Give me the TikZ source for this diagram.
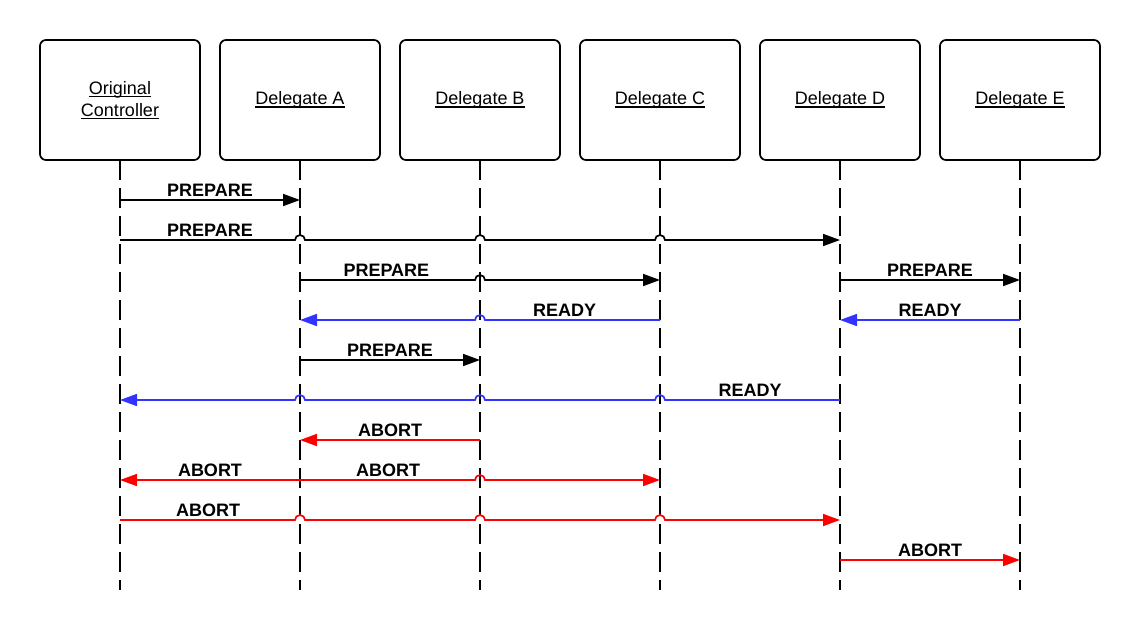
\documentclass[tikz,border=0pt]{standalone}
\usepackage{fontspec}
\setmainfont{Liberation Sans}
\usetikzlibrary{positioning,calc,arrows.meta}
\definecolor{msgblue}{RGB}{51,51,255}
\definecolor{msgred}{RGB}{255,0,0}
% tight underline for the box titles
\newcommand{\ulbox}[1]{\setbox0\hbox{#1}\rlap{\rule[-3pt]{\wd0}{1.2pt}}\box0}
% little hops where a message crosses a lifeline
\newcommand{\hopr}[1]{-- ([xshift=-5pt]#1) arc[start angle=180,end angle=0,radius=5pt]}
\newcommand{\hopl}[1]{-- ([xshift=5pt]#1) arc[start angle=0,end angle=180,radius=5pt]}

\begin{document}
\begin{tikzpicture}[x=1pt,y=-1pt,
  box/.style={draw, line width=1.7pt, outer sep=0pt, rounded corners=6pt, minimum width=160pt, minimum height=120pt, align=center, font=\fontsize{18}{22}\selectfont},
  life/.style={line width=1.7pt, dash pattern=on 20pt off 8pt},
  msg/.style={line width=1.7pt, -{Triangle[length=17pt,width=12pt]}},
  lbl/.style={anchor=south, inner sep=3pt, font=\fontsize{18}{22}\selectfont\bfseries}]
\useasboundingbox (0,0) rectangle (1140,630);
\node[box] (ctl) at (120,100) {\ulbox{Original}\\\ulbox{Controller}};
\node[box, right=20pt of ctl] (delA) {\ulbox{Delegate A}};
\node[box, right=20pt of delA] (delB) {\ulbox{Delegate B}};
\node[box, right=20pt of delB] (delC) {\ulbox{Delegate C}};
\node[box, right=20pt of delC] (delD) {\ulbox{Delegate D}};
\node[box, right=20pt of delD] (delE) {\ulbox{Delegate E}};
\coordinate (bot) at (0,590);
\foreach \n in {ctl,delA,delB,delC,delD,delE}
  \draw[life] (\n.south) -- (\n |- bot);
\foreach \i in {1,...,10}
  \coordinate (r\i) at (0,160+40*\i);
% prepare phase
\draw[msg] (ctl |- r1) -- (delA |- r1);
\node[lbl] at ($(ctl |- r1)!0.5!(delA |- r1)$) {PREPARE};
\draw[msg] (ctl |- r2) \hopr{delA |- r2} \hopr{delB |- r2} \hopr{delC |- r2} -- (delD |- r2);
\node[lbl] at ($(ctl |- r2)!0.5!(delA |- r2)$) {PREPARE};
\draw[msg] (delA |- r3) \hopr{delB |- r3} -- (delC |- r3);
\node[lbl] at ($(delA |- r3)!0.48!(delB |- r3)$) {PREPARE};
\draw[msg] (delD |- r3) -- (delE |- r3);
\node[lbl] at ($(delD |- r3)!0.5!(delE |- r3)$) {PREPARE};
\draw[msg, msgblue] (delC |- r4) \hopl{delB |- r4} -- (delA |- r4);
\node[lbl] at ($(delB |- r4)!0.47!(delC |- r4)$) {READY};
\draw[msg, msgblue] (delE |- r4) -- (delD |- r4);
\node[lbl] at ($(delD |- r4)!0.5!(delE |- r4)$) {READY};
\draw[msg] (delA |- r5) -- (delB |- r5);
\node[lbl] at ($(delA |- r5)!0.5!(delB |- r5)$) {PREPARE};
\draw[msg, msgblue] (delD |- r6) \hopl{delC |- r6} \hopl{delB |- r6} \hopl{delA |- r6} -- (ctl |- r6);
\node[lbl] at ($(delC |- r6)!0.5!(delD |- r6)$) {READY};
% abort phase
\draw[msg, msgred] (delB |- r7) -- (delA |- r7);
\node[lbl] at ($(delA |- r7)!0.5!(delB |- r7)$) {ABORT};
\draw[msg, msgred] (delA |- r8) -- (ctl |- r8);
\node[lbl] at ($(ctl |- r8)!0.5!(delA |- r8)$) {ABORT};
\draw[msg, msgred] (delA |- r8) \hopr{delB |- r8} -- (delC |- r8);
\node[lbl] at ($(delA |- r8)!0.49!(delB |- r8)$) {ABORT};
\draw[msg, msgred] (ctl |- r9) \hopr{delA |- r9} \hopr{delB |- r9} \hopr{delC |- r9} -- (delD |- r9);
\node[lbl] at ($(ctl |- r9)!0.49!(delA |- r9)$) {ABORT};
\draw[msg, msgred] (delD |- r10) -- (delE |- r10);
\node[lbl] at ($(delD |- r10)!0.5!(delE |- r10)$) {ABORT};
\end{tikzpicture}
\end{document}
